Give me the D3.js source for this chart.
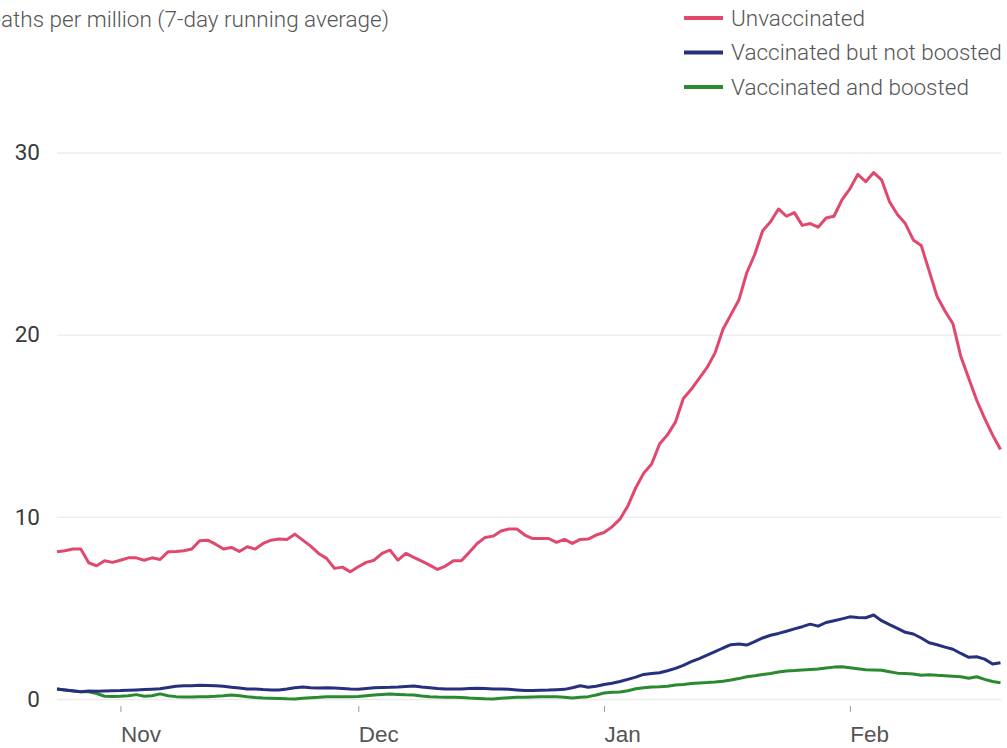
<!DOCTYPE html>
<html>
<head>
<meta charset="utf-8">
<script src="https://cdn.jsdelivr.net/npm/d3@7"></script>
<style>
  body { margin: 0; background: #fff; }
  svg { display: block; font-family: Roboto, "Open Sans", sans-serif; }
</style>
</head>
<body>
<div id="chart-container"></div>
<script>
// daily values, first day 24 Oct 2021
var startDate = "2021-10-24";

var unvaccinated = [
  8.08, 8.14, 8.23, 8.23, 7.48, 7.31, 7.59, 7.50, 7.62, 7.75,
  7.75, 7.62, 7.75, 7.66, 8.08, 8.10, 8.14, 8.23, 8.69, 8.72,
  8.50, 8.23, 8.32, 8.10, 8.36, 8.23, 8.54, 8.72, 8.78, 8.76,
  9.05, 8.72, 8.39, 7.99, 7.72, 7.17, 7.24, 6.98, 7.26, 7.50,
  7.62, 7.99, 8.17, 7.62, 7.99, 7.77, 7.57, 7.35, 7.11, 7.30,
  7.59, 7.59, 8.05, 8.54, 8.87, 8.94, 9.22, 9.33, 9.33, 9.00,
  8.81, 8.81, 8.81, 8.60, 8.76, 8.54, 8.76, 8.78, 9.00, 9.14,
  9.45, 9.87, 10.6, 11.6, 12.4, 12.9, 14.0, 14.5, 15.2, 16.5,
  17.0, 17.6, 18.2, 19.0, 20.3, 21.1, 21.9, 23.4, 24.4, 25.7,
  26.2, 26.9, 26.5, 26.7, 26.0, 26.1, 25.9, 26.4, 26.5, 27.4,
  28.0, 28.8, 28.4, 28.9, 28.5, 27.3, 26.6, 26.1, 25.2, 24.9,
  23.5, 22.1, 21.3, 20.6, 18.8, 17.6, 16.4, 15.4, 14.5, 13.7
];

var vaccinatedNotBoosted = [
  0.55, 0.50, 0.45, 0.40, 0.44, 0.42, 0.44, 0.45, 0.46, 0.48,
  0.50, 0.52, 0.54, 0.56, 0.63, 0.70, 0.73, 0.73, 0.75, 0.74,
  0.73, 0.70, 0.64, 0.60, 0.55, 0.55, 0.52, 0.50, 0.49, 0.55,
  0.62, 0.66, 0.62, 0.60, 0.62, 0.60, 0.58, 0.55, 0.53, 0.58,
  0.62, 0.63, 0.64, 0.66, 0.69, 0.71, 0.66, 0.62, 0.58, 0.55,
  0.55, 0.55, 0.57, 0.59, 0.57, 0.55, 0.55, 0.53, 0.50, 0.47,
  0.46, 0.48, 0.49, 0.51, 0.53, 0.62, 0.73, 0.64, 0.70, 0.80,
  0.86, 0.96, 1.08, 1.20, 1.35, 1.40, 1.44, 1.55, 1.68, 1.85,
  2.05, 2.22, 2.41, 2.60, 2.80, 2.98, 3.02, 2.96, 3.15, 3.35,
  3.50, 3.60, 3.72, 3.85, 3.97, 4.11, 4.00, 4.20, 4.30, 4.40,
  4.51, 4.48, 4.46, 4.61, 4.30, 4.08, 3.88, 3.66, 3.57, 3.35,
  3.09, 2.98, 2.85, 2.73, 2.50, 2.29, 2.32, 2.19, 1.92, 1.99
];

var vaccinatedBoosted = [
  0.55, 0.50, 0.44, 0.40, 0.40, 0.30, 0.15, 0.14, 0.15, 0.18,
  0.24, 0.15, 0.18, 0.28, 0.18, 0.13, 0.11, 0.11, 0.12, 0.13,
  0.15, 0.18, 0.22, 0.18, 0.12, 0.08, 0.05, 0.04, 0.03, 0.01,
  0.00, 0.04, 0.07, 0.09, 0.12, 0.13, 0.13, 0.13, 0.14, 0.18,
  0.22, 0.25, 0.27, 0.25, 0.23, 0.22, 0.17, 0.13, 0.11, 0.10,
  0.09, 0.08, 0.05, 0.03, 0.01, 0.00, 0.04, 0.07, 0.09, 0.10,
  0.11, 0.12, 0.13, 0.12, 0.09, 0.06, 0.10, 0.13, 0.22, 0.33,
  0.37, 0.39, 0.45, 0.56, 0.62, 0.66, 0.67, 0.70, 0.77, 0.80,
  0.85, 0.88, 0.90, 0.93, 0.98, 1.04, 1.12, 1.22, 1.28, 1.35,
  1.40, 1.48, 1.54, 1.56, 1.59, 1.62, 1.65, 1.70, 1.75, 1.77,
  1.72, 1.66, 1.60, 1.59, 1.58, 1.50, 1.42, 1.40, 1.37, 1.30,
  1.33, 1.30, 1.28, 1.25, 1.22, 1.14, 1.22, 1.08, 0.96, 0.89
];

var seriesNames = ["Unvaccinated", "Vaccinated but not boosted", "Vaccinated and boosted"];
var seriesColors = ["#e0486c", "#27307f", "#2a8a30"];
var yTicks = [0, 10, 20, 30];
var titleText = "Deaths per million (7-day running average)";

var svgWidth = 1007;
var svgHeight = 748;
var fontSize = '22.5px';

var svg = d3.select('#chart-container')
    .append('svg')
    .attr('width', svgWidth)
    .attr('height', svgHeight);

var parseDate = d3.timeParse("%Y-%m-%d");
var day0 = parseDate(startDate);
var dates = unvaccinated.map(function(_, i) { return d3.timeDay.offset(day0, i); });

var x = d3.scaleTime()
    .domain([dates[0], dates[dates.length - 1]])
    .range([57, 1000.5]);

var y = d3.scaleLinear()
    .domain([0, 30])
    .range([699, 152.5]);

// grid + y labels
var yAxis = svg.append('g')
    .attr('transform', 'translate(57,0)')
    .call(d3.axisLeft(y).tickValues(yTicks).tickSize(-(1001 - 57)).tickPadding(17));
yAxis.select('.domain').remove();
yAxis.selectAll('line')
    .attr('stroke', '#ebebeb')
    .attr('stroke-width', 1.3);
yAxis.selectAll('text')
    .attr('fill', '#3a3a3a')
    .style('font-size', fontSize)
    .style('font-family', 'Roboto, sans-serif');

// x axis
var xAxis = svg.append('g')
    .attr('transform', 'translate(0,706)')
    .call(d3.axisBottom(x).ticks(d3.timeMonth.every(1)).tickFormat(d3.timeFormat("%b")).tickSize(6).tickPadding(14));
xAxis.select('.domain').remove();
xAxis.selectAll('line')
    .attr('stroke', '#999');
xAxis.selectAll('text')
    .attr('fill', '#555')
    .attr('text-anchor', 'start')
    .style('font-size', fontSize)
    .style('font-weight', 300);

// lines
var allSeries = [unvaccinated, vaccinatedNotBoosted, vaccinatedBoosted];
var line = d3.line()
    .x(function(d, i) { return x(dates[i]); })
    .y(function(d) { return y(d); });

// draw green first so red sits on top
[2, 1, 0].forEach(function(k) {
    svg.append('path')
        .datum(allSeries[k])
        .attr('fill', 'none')
        .attr('stroke', seriesColors[k])
        .attr('stroke-width', 3)
        .attr('stroke-linejoin', 'round')
        .attr('d', line);
});

// title (clipped at the left edge like the original)
svg.append('text')
    .attr('x', 389)
    .attr('y', 27)
    .attr('text-anchor', 'end')
    .attr('fill', '#555')
    .style('font-size', fontSize)
    .style('font-weight', 300)
    .text(titleText);

// legend
var legend = svg.selectAll('.legend')
    .data(seriesNames)
    .enter().append('g')
    .attr('class', 'legend')
    .attr('transform', function(d, i) { return 'translate(684,' + (18 + i * 34.5) + ')'; });

legend.append('line')
    .attr('x1', 0)
    .attr('x2', 39)
    .attr('stroke', function(d, i) { return seriesColors[i]; })
    .attr('stroke-width', 4);

legend.append('text')
    .attr('x', 47)
    .attr('dy', '0.35em')
    .attr('fill', '#555')
    .style('font-size', fontSize)
    .style('font-weight', 300)
    .text(function(d) { return d; });
</script>
</body>
</html>
